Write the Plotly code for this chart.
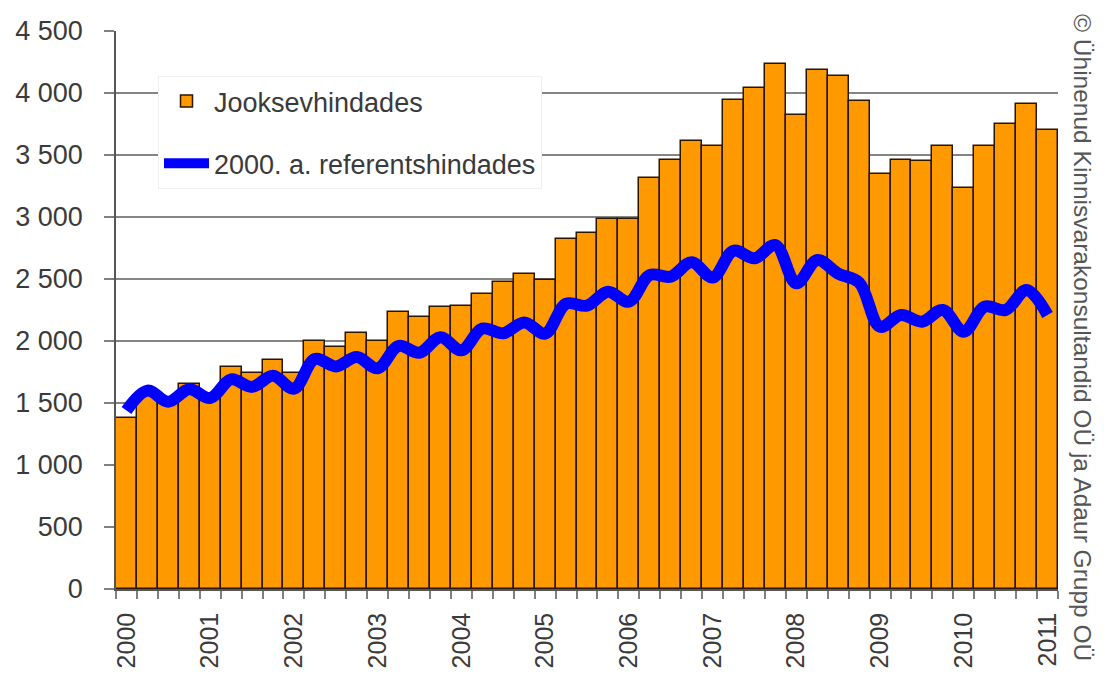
import plotly.graph_objects as go

# Quarterly series, 2000 Q1 .. 2011 Q1
quarters = [f"{y} Q{q}" for y in range(2000, 2012) for q in range(1, 5)][:45]

current_prices = [
    1382, 1570, 1500, 1650,   # 2000
    1575, 1790, 1745, 1847,   # 2001
    1740, 2000, 1952, 2068,   # 2002
    2002, 2230, 2191, 2277,   # 2003
    2285, 2379, 2478, 2538,   # 2004
    2491, 2820, 2874, 2987,   # 2005
    2987, 3317, 3457, 3616,   # 2006
    3573, 3941, 4038, 4237,   # 2007
    3826, 4186, 4137, 3933,   # 2008
    3344, 3460, 3454, 3570,   # 2009
    3231, 3573, 3748, 3909,   # 2010
    3704,                     # 2011
]

reference_prices_2000 = [
    1440, 1600, 1510, 1610,
    1540, 1690, 1630, 1720,
    1615, 1855, 1795, 1870,
    1780, 1960, 1905, 2030,
    1925, 2100, 2062, 2150,
    2060, 2300, 2285, 2398,
    2317, 2532, 2519, 2635,
    2512, 2727, 2667, 2774,
    2465, 2653, 2543, 2472,
    2115, 2210, 2156, 2250,
    2075, 2277, 2250, 2411,
    2210,
]

year_labels = ["2000", "2001", "2002", "2003", "2004", "2005",
               "2006", "2007", "2008", "2009", "2010", "2011"]

series_names = ["Jooksevhindades", "2000. a. referentshindades"]
source_text = "© Ühinenud Kinnisvarakonsultandid OÜ ja Adaur Grupp OÜ"

x_idx = list(range(len(current_prices)))
FONT = "Liberation Sans, Arial, sans-serif"

fig = go.Figure()
fig.add_trace(go.Bar(
    x=x_idx, y=current_prices, name=series_names[0], text=quarters,
    hoverinfo="text+y", textposition="none",
    marker=dict(color="#FF9900", line=dict(color="#2a1500", width=1.5)),
    legendgroup="a",
))
fig.add_trace(go.Scatter(
    x=x_idx, y=reference_prices_2000, name=series_names[1], mode="lines",
    line=dict(color="#0000FF", width=12, shape="spline", smoothing=1),
    legendgroup="b",
))

fig.update_layout(
    width=1104, height=677,
    margin=dict(l=116, r=46, t=31, b=88, autoexpand=False),
    paper_bgcolor="white", plot_bgcolor="white",
    bargap=0,
    separators=". ",
    font=dict(family=FONT, size=24, color="#3a3a3a"),
    showlegend=True,
    legend=dict(
        x=(158 - 116) / 942, y=(589 - 76) / 558, xanchor="left", yanchor="top",
        bgcolor="white", bordercolor="#f0f0f0", borderwidth=1,
        font=dict(family=FONT, size=27, color="#3a3a3a"),
        traceorder="grouped", tracegroupgap=24, itemwidth=45,
    ),
    xaxis=dict(
        range=[-0.5, len(current_prices) - 0.5],
        tickmode="array",
        tickvals=x_idx[::4],
        ticktext=year_labels,
        tickangle=-90,
        ticks="",
        ticklabelstandoff=12,
        tickfont=dict(family=FONT, size=25, color="#3a3a3a"),
        showline=True, linecolor="#555555", linewidth=1.5,
        showgrid=False, zeroline=False,
        minor=dict(
            tickmode="array",
            tickvals=[i - 0.5 for i in range(len(current_prices) + 1)],
            ticks="outside", ticklen=8, tickcolor="#808080", tickwidth=1.5,
            showgrid=False,
        ),
    ),
    yaxis=dict(
        range=[0, 4500], tickmode="linear", tick0=0, dtick=500,
        separatethousands=True,
        showgrid=True, gridcolor="#858585", gridwidth=1.5,
        ticks="outside", ticklen=10, tickcolor="#808080", tickwidth=1.5,
        ticklabelstandoff=16,
        tickfont=dict(family=FONT, size=27, color="#3a3a3a"),
        showline=True, linecolor="#555555", linewidth=1.5,
        zeroline=False,
    ),
    annotations=[dict(
        text=source_text, textangle=90,
        xref="paper", yref="paper", x=(1083 - 116) / 942, y=(589 - 337) / 558,
        xanchor="center", yanchor="middle", showarrow=False,
        font=dict(family=FONT, size=24.5, color="#555555"),
    )],
)

fig.write_html(
    "out.html",
    config={"displayModeBar": False},
    post_script="document.body.style.margin='0';document.body.style.overflow='hidden';",
)
